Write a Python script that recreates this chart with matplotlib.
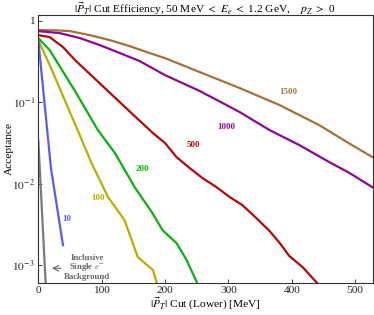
import matplotlib
matplotlib.use("Agg")
import matplotlib.pyplot as plt
import numpy as np

plt.rcParams['font.family'] = ['Liberation Serif', 'DejaVu Serif']
plt.rcParams['mathtext.fontset'] = 'stix'

# data (pT cut [MeV], acceptance)
x1500 = [0, 26, 50, 81, 113, 144, 176, 200, 255, 318, 381, 443, 495, 527]
y1500 = [0.769, 0.765, 0.747, 0.667, 0.579, 0.489, 0.401, 0.348, 0.234, 0.149, 0.092, 0.0524, 0.0297, 0.0212]

x1000 = [0, 34, 66, 97, 129, 160, 200, 255, 318, 365, 412, 459, 491, 527]
y1000 = [0.747, 0.706, 0.612, 0.503, 0.401, 0.320, 0.215, 0.137, 0.0755, 0.0454, 0.0297, 0.0184, 0.0135, 0.00905]

x500 = [0, 18, 39, 58, 105, 152, 181, 200, 218, 239, 259, 281, 302, 322, 344, 365, 381, 396, 417, 440]
y500 = [0.667, 0.631, 0.475, 0.329, 0.149, 0.0675, 0.0417, 0.0315, 0.0212, 0.0155, 0.0117, 0.00906,
        0.00683, 0.00544, 0.00377, 0.00261, 0.00186, 0.00129, 0.000942, 0.0006]

x200 = [0, 18, 58, 94, 121, 152, 179, 196, 218, 234, 250]
y200 = [0.613, 0.436, 0.137, 0.0454, 0.0237, 0.00906, 0.00447, 0.00268, 0.00186, 0.00115, 0.000617]

x100 = [0, 18, 62, 84, 110, 136, 157, 181, 187]
y100 = [0.579, 0.286, 0.0454, 0.0179, 0.00683, 0.00356, 0.00125, 0.000865, 0.0006]

x10 = [0, 20, 39]
y10 = [0.579, 0.0154, 0.00175]

xbg = [0, 12.1]
ybg = [0.0342, 0.000506]

series = [
    (x1500, y1500, '#A5713D', '1500', (395, 0.133)),
    (x1000, y1000, '#8B0A90', '1000', (297, 0.0494)),
    (x500, y500, '#B20A0A', '500', (245, 0.0297)),
    (x200, y200, '#0DB00D', '200', (165, 0.0151)),
    (x100, y100, '#B8AE05', '100', (94, 0.00663)),
    (x10, y10, '#5A5AF5', '10', (45, 0.00364)),
    (xbg, ybg, '#7A7A7A', None, None),
]

W, H = 374, 315
fig = plt.figure(figsize=(W / 100, H / 100), dpi=100)
ax = fig.add_axes([0.1024, 0.1016, 0.8946, 0.8504])

for xs, ys, c, lab, pos in series:
    ax.plot(xs, ys, color=c, lw=1.6, solid_joinstyle='round')
    if lab:
        ax.text(pos[0], pos[1], lab, color=c, fontsize=6.5, fontweight='bold',
                ha='center', va='center')

ax.text(77, 0.00093, "Inclusive\nSingle $e^{-}$\nBackground", color='#666666', fontsize=6.3,
        fontweight='bold', ha='center', va='center', linespacing=0.95)
ax.annotate("", xy=(17, 0.00091), xytext=(40, 0.00091),
            arrowprops=dict(arrowstyle='->', color='#666666', lw=0.8))

ax.set_yscale('log')
ax.set_xlim(0, 528)
ax.set_ylim(6.0e-4, 1.175)
ax.set_xticks([0, 100, 200, 300, 400, 500])
ax.set_yticks([1, 0.1, 0.01, 0.001])
ax.set_yticklabels(['1', r'$10^{-1}$', r'$10^{-2}$', r'$10^{-3}$'])
ax.minorticks_off()
ax.tick_params(direction='in', length=3, width=0.6, labelsize=8.2, colors='#222222', pad=2.5)
for s in ax.spines.values():
    s.set_linewidth(0.8)
    s.set_color('#333333')

fig.text(205 / W, 1 - 9 / H,
         r"$|\vec{P}_T|$ Cut Efficiency, 50 MeV $<$ $E_e$ $<$ 1.2 GeV,    $p_Z$ $>$ 0",
         fontsize=8.2, ha='center', va='center')
fig.text(205 / W, (315 - 304) / H, r"$|\vec{P}_T|$ Cut (Lower) [MeV]",
         fontsize=8.2, ha='center', va='center')
fig.text(9 / W, 0.53, "Acceptance", fontsize=8.2, rotation=90, ha='center', va='center')

fig.savefig("out.png", dpi=100)
